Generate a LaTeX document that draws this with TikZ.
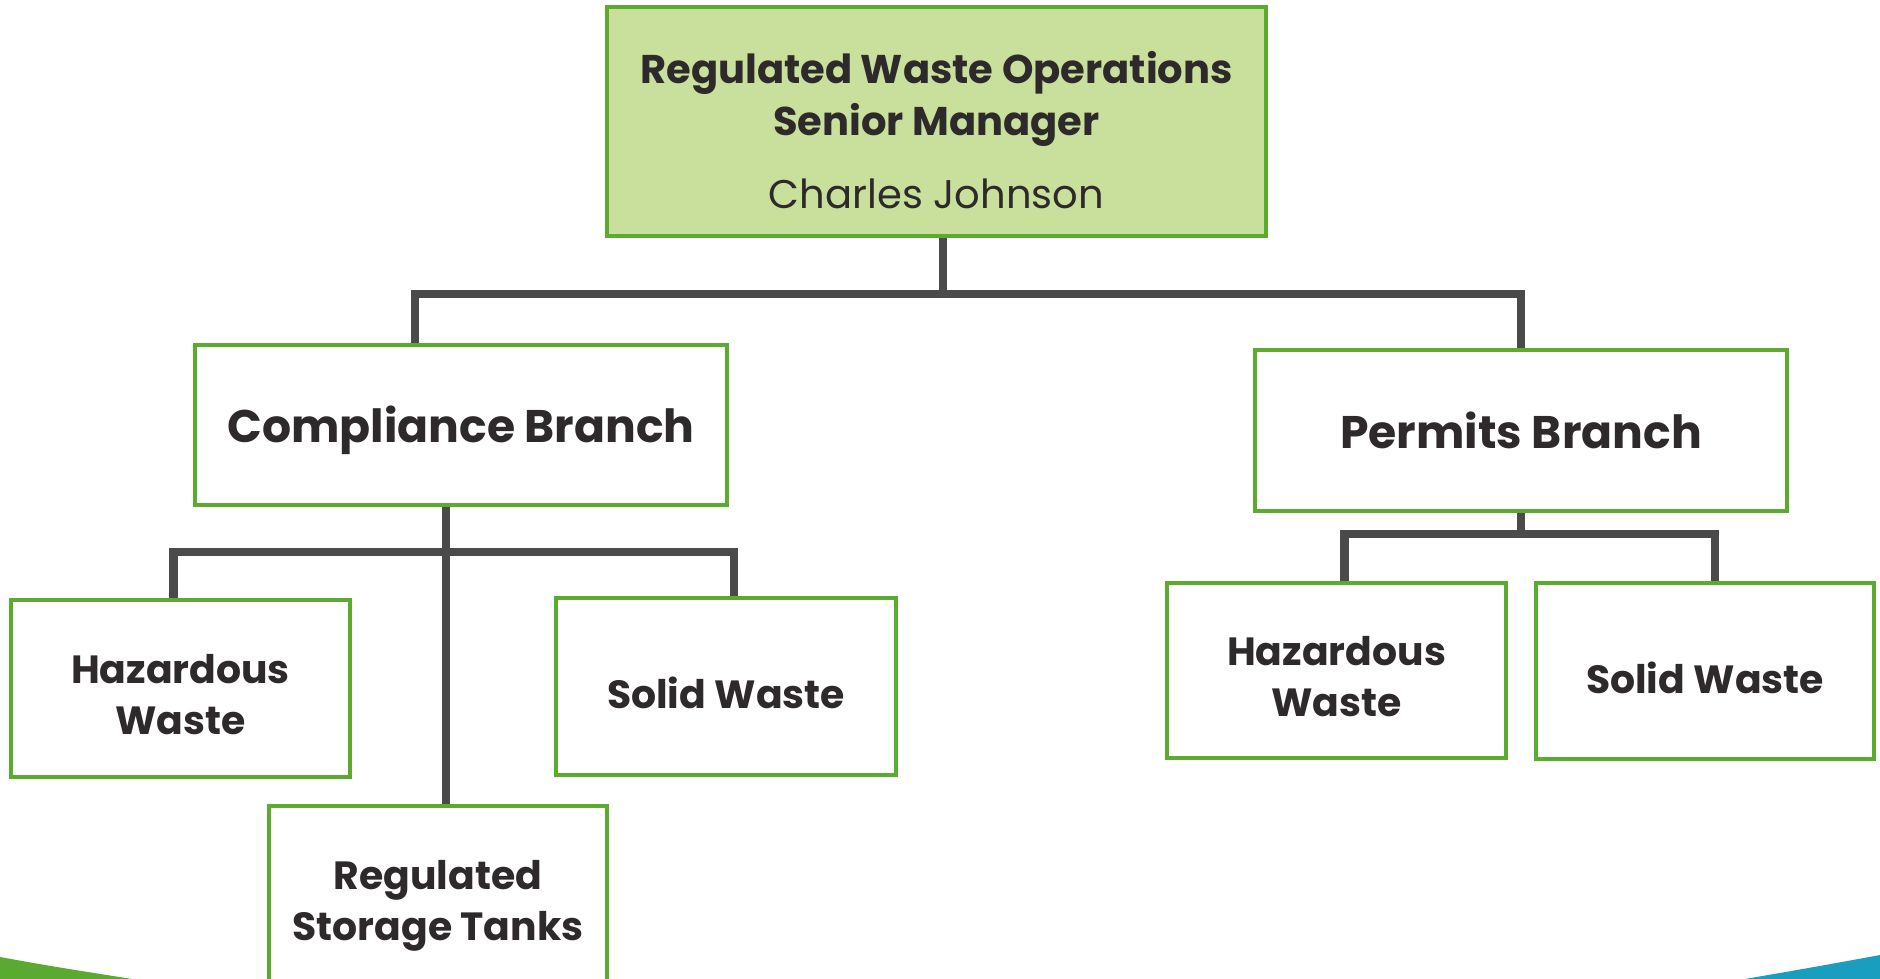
\documentclass[tikz,border=0pt]{standalone}
\usepackage{fontspec}
\setmainfont{Poppins}
\definecolor{boxgreen}{HTML}{5AAB2E}
\definecolor{headfill}{HTML}{C8E09C}
\definecolor{txtdark}{HTML}{2E2A2B}
\definecolor{linegray}{HTML}{4A4A4A}
\definecolor{swgreen}{HTML}{5AAA32}
\definecolor{swblue}{HTML}{1A9EC0}
\newcommand{\lift}[1]{\rule{0pt}{#1}}
\tikzset{
  unit/.style={draw=boxgreen, line width=1.1pt, fill=white, align=center,
    inner sep=0pt, text=txtdark, font=\bfseries\fontsize{11.2}{14.5}\selectfont},
  branch/.style={unit, minimum width=5.32cm, minimum height=1.60cm,
    text height=10pt, text depth=0pt, font=\bfseries\fontsize{13}{16}\selectfont},
  conn/.style={draw=linegray, line width=2.3pt}
}
\begin{document}
\begin{tikzpicture}
    \useasboundingbox (0,0) rectangle (18.8,-9.79);
    \clip (0,0) rectangle (18.8,-9.79);

    % Bottom corner swooshes
    \fill[swgreen] (0,-9.57) .. controls (0.5,-9.66) .. (1.32,-9.79) -- (0,-9.79) -- cycle;
    \fill[swblue] (18.8,-9.55) .. controls (18.2,-9.66) .. (17.45,-9.79) -- (18.8,-9.79) -- cycle;

    % Root node
    \node[unit, fill=headfill, minimum width=6.59cm, minimum height=2.29cm,
      font=\bfseries\fontsize{11.4}{14.8}\selectfont] (head) at (9.365,-1.215)
      {\lift{14pt}Regulated Waste Operations\\Senior Manager\\[6pt]{\mdseries Charles Johnson}};

    % Branch nodes
    \node[branch] (compl) at (4.61,-4.25) {Compliance Branch};
    \node[branch, minimum height=1.61cm] (permits) at (15.21,-4.305) {Permits Branch};

    % Compliance units
    \node[unit, minimum width=3.39cm, minimum height=1.77cm] (chaz) at (1.805,-6.885) {\lift{12pt}Hazardous\\Waste};
    \node[unit, minimum width=3.40cm, minimum height=1.77cm] (csolid) at (7.26,-6.865) {\lift{0.45cm}Solid Waste};
    \node[unit, minimum width=3.38cm, minimum height=2.00cm] (ctanks) at (4.38,-9.06) {Regulated\\Storage Tanks};

    % Permits units
    \node[unit, minimum width=3.39cm, minimum height=1.75cm] (phaz) at (13.365,-6.705) {\lift{12pt}Hazardous\\Waste};
    \node[unit, minimum width=3.38cm, minimum height=1.76cm] (psolid) at (17.05,-6.71) {\lift{0.45cm}Solid Waste};

    % Bus points
    \coordinate (topbus) at (9.43,-2.94);
    \coordinate (cbus) at (4.46,-5.52);
    \coordinate (pbus) at (15.21,-5.34);

    % Connectors
    \draw[conn] (head.south -| topbus) -- (topbus);
    \draw[conn] ([xshift=-0.46cm]compl.north) |- (topbus) -| (permits.north);
    \draw[conn] (compl.south -| cbus) -- (ctanks.north -| cbus);
    \draw[conn] ([xshift=-0.07cm]chaz.north) |- (cbus) -| ([xshift=0.08cm]csolid.north);
    \draw[conn] (permits.south) -- (pbus);
    \draw[conn] ([xshift=0.08cm]phaz.north) |- (pbus) -| ([xshift=0.1cm]psolid.north);
\end{tikzpicture}
\end{document}
